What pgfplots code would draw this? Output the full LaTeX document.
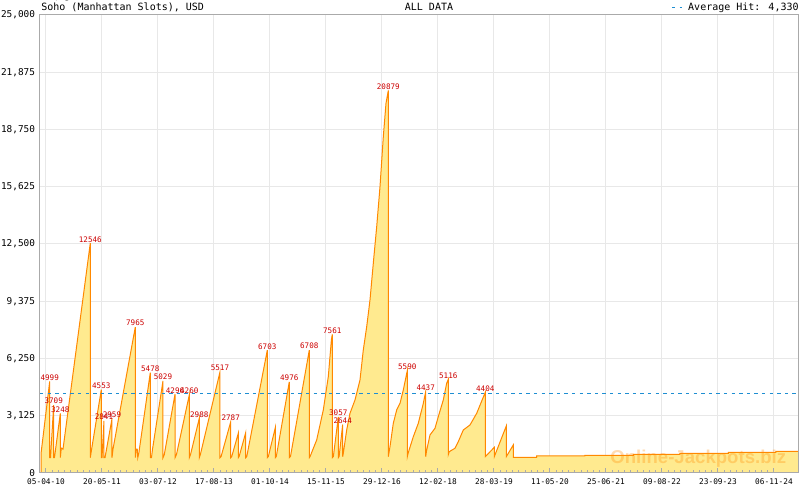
\documentclass[border=0pt]{standalone}
\usepackage{pgfplots}
\pgfplotsset{compat=1.18}
\usepackage{pgfplotstable}
\usepackage{fontspec}
\newfontfamily\mono{DejaVu Sans Mono}
\newfontfamily\wmfont{Liberation Sans}
\definecolor{fillY}{RGB}{255,234,143}
\definecolor{lineO}{RGB}{255,136,0}
\definecolor{peakR}{RGB}{204,0,0}
\definecolor{avgB}{RGB}{30,142,210}
\definecolor{gridG}{RGB}{232,232,232}
\definecolor{axG}{RGB}{170,170,170}
\pgfplotstableread{
d v
-36.6 1050
27.1 4999
27.1 835
33 835
56.4 3709
56.4 835
62 835
104.7 3248
104.7 835
112 1360
124.5 1300
324.3 12546
324.3 835
334 1300
404.9 4553
404.9 835
410 835
424.6 2841
424.6 835
432 835
483.2 2959
483.2 835
490.5 1300
653.8 7965
653.8 835
660 1300
668 1300
672 835
680 1100
763.6 5478
763.6 835
772 835
780 1300
856.6 5029
856.6 835
866 1000
944.5 4296
944.5 835
955 1000
1049.2 4260
1049.2 835
1058 1000
1122.4 2988
1122.4 835
1130 1000
1273.9 5517
1273.9 835
1282 900
1352.3 2787
1352.3 835
1360 900
1407.9 2167
1407.9 835
1414 900
1462.1 2200
1462.1 835
1470 900
1620.2 6703
1620.2 835
1628 900
1678.8 2473
1678.8 835
1686 900
1781.3 4976
1781.3 835
1790 900
1927.7 6708
1927.7 835
1933 890
1981.8 1800
2030.3 3440
2066.9 5260
2090 7300
2096.1 7561
2096.1 835
2104 900
2140 3057
2140 835
2146 900
2172.2 2644
2172.2 890
2176.7 1075
2201.5 2347
2225.7 3258
2262.3 3985
2298.9 5076
2323.1 6714
2348 7986
2372.1 9443
2396.3 11447
2421.2 13445
2445.4 15628
2469.6 18357
2489.3 20180
2506.2 20879
2506.2 890
2518.6 1436
2542.7 2710
2567.6 3440
2591.8 3800
2616 4530
2645.3 5590
2645.3 890
2652 1100
2689.2 1980
2725.8 2710
2762.4 3800
2780 4437
2780 890
2786 1200
2811.4 2074
2848 2440
2872.2 3075
2908.8 3985
2933.7 4900
2945.4 5116
2945.4 1000
2952.7 1165
2994.4 1350
3018.6 1710
3055.2 2347
3104.3 2620
3153.3 3258
3216.3 4404
3216.3 890
3282.2 1400
3282.2 890
3370 2565
3370 890
3421.3 1530
3421.3 857
3592.6 857
3592.6 928
3946.2 928
3946.2 964
4299.9 964
4299.9 1020
4641.8 1020
4641.8 1075
4995.4 1075
4995.4 1130
5344.6 1130
5344.6 1185
5513 1185
}\jackpot
\pgfplotstableread{
d v lab
27.1 4999 4999
56.4 3709 3709
104.7 3248 3248
324.3 12546 12546
404.9 4553 4553
424.6 2841 2841
483.2 2959 2959
653.8 7965 7965
763.6 5478 5478
856.6 5029 5029
944.5 4296 4296
1049.2 4260 4260
1122.4 2988 2988
1273.9 5517 5517
1352.3 2787 2787
1620.2 6703 6703
1781.3 4976 4976
1927.7 6708 6708
2096.1 7561 7561
2140 3057 3057
2172.2 2644 2644
2506.2 20879 20879
2645.3 5590 5590
2780 4437 4437
2945.4 5116 5116
3216.3 4404 4404
}\peaks
\pgfplotsset{
  base/.style={
    at={(20pt,8.5pt)}, anchor=south west,
    scale only axis, width=379.5pt, height=229pt,
    xmin=-43.93, xmax=5513.04, ymin=0, ymax=25000,
    xtick={0,410,820,1230,1640,2050,2460,2870,3280,3690,4100,4510,4920,5330},
    ytick={0,3125,6250,9375,12500,15625,18750,21875,25000},
  }
}
\begin{document}
\begin{tikzpicture}
\path[use as bounding box] (0,0) rectangle (400pt,245pt);
\begin{axis}[
  base,
  xticklabels={05-04-10,20-05-11,03-07-12,17-08-13,01-10-14,15-11-15,29-12-16,12-02-18,28-03-19,11-05-20,25-06-21,09-08-22,23-09-23,06-11-24},
  yticklabels={0,{3,125},{6,250},{9,375},{12,500},{15,625},{18,750},{21,875},{25,000}},
  tick style={draw=none},
  xmajorgrids, ymajorgrids,
  grid style={draw=gridG, line width=0.5pt},
  axis line style={draw=none},
  xticklabel style={font=\mono\fontsize{3.9}{4.5}\selectfont, inner sep=0pt, yshift=-2.6pt},
  yticklabel style={font=\mono\fontsize{4.7}{5}\selectfont, inner sep=0pt, xshift=-2.3pt},
]
\addplot[draw=lineO, line width=0.5pt, fill=fillY] table[x=d,y=v] {\jackpot} \closedcycle;
\addplot[draw=avgB, line width=0.5pt, dash pattern=on 1.7pt off 2.1pt] coordinates {(-43.93,4330) (5513.04,4330)};
\addplot[draw=none, mark=none, nodes near coords, point meta=explicit symbolic,
  nodes near coords style={anchor=south, inner sep=0pt, yshift=0.3pt, text=peakR, font=\mono\fontsize{3.8}{4}\selectfont}]
  table[x=d,y=v,meta=lab] {\peaks};
\end{axis}
\begin{axis}[
  base,
  xticklabel=\empty, yticklabel=\empty,
  minor x tick num=8,
  xtick pos=lower, ytick pos=left,
  tick align=inside,
  major x tick style={draw=axG, line width=0.5pt},
  minor x tick style={draw=axG, line width=0.5pt},
  major tick length=2.6pt, minor tick length=1.5pt,
  ytick style={draw=none},
  axis line style={draw=axG, line width=0.5pt},
]
\end{axis}
\node[anchor=base west, inner sep=0pt, text=lineO, text opacity=0.3, font=\wmfont\bfseries\fontsize{9.3}{10}\selectfont] at (305pt,13.3pt) {Online-Jackpots.biz};
\node[anchor=base west, inner sep=0pt, font=\mono\fontsize{5}{6}\selectfont] at (20.5pt,239.5pt) {Soho (Manhattan Slots), USD};
\node[anchor=base, inner sep=0pt, font=\mono\fontsize{5}{6}\selectfont] at (214.5pt,239.5pt) {ALL DATA};
\node[anchor=base east, inner sep=0pt, font=\mono\fontsize{5}{6}\selectfont] at (399.5pt,239.5pt) {Average Hit: 4,330};
\draw[avgB, line width=0.5pt, dash pattern=on 1.7pt off 2.1pt] (336pt,241.3pt) -- (341pt,241.3pt);
\end{tikzpicture}
\end{document}
